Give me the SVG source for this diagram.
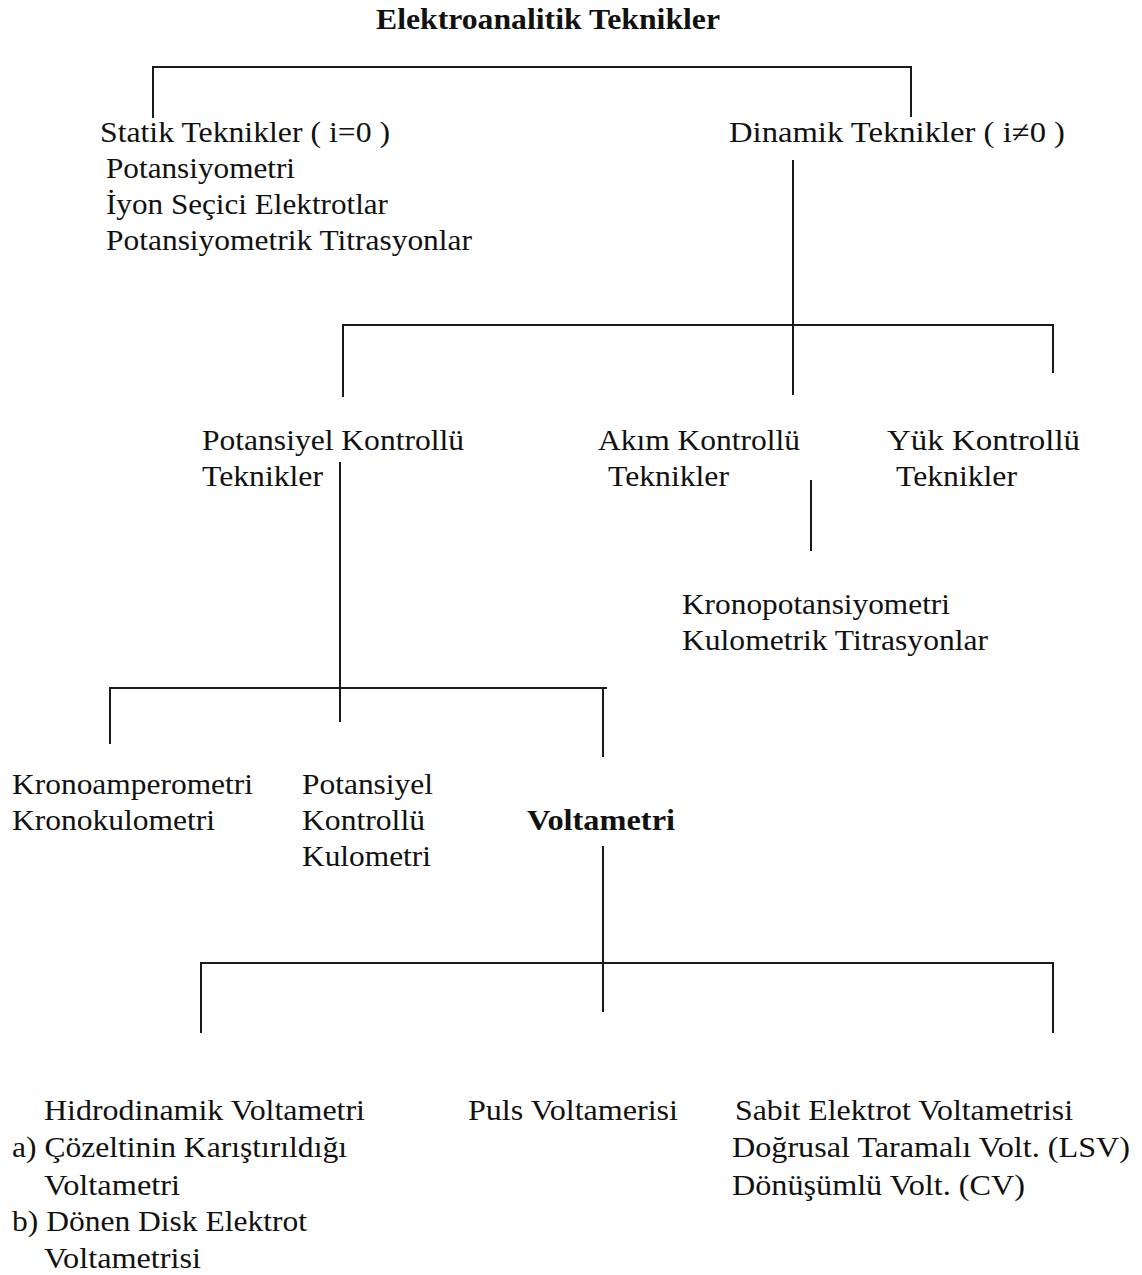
<svg xmlns="http://www.w3.org/2000/svg" width="1142" height="1275" viewBox="0 0 1142 1275">
<style>
.b{font-weight:bold}
.c line{stroke:#1a1a1a;stroke-width:2;fill:none}
</style>
<rect width="1142" height="1275" fill="#fff"/>
<g class="c" id="connectors">
<line x1="153" y1="67" x2="911" y2="67"/>
<line x1="153" y1="66" x2="153" y2="118"/>
<line x1="911" y1="66" x2="911" y2="117"/>
<line x1="793" y1="160" x2="793" y2="395"/>
<line x1="343" y1="325" x2="1053" y2="325"/>
<line x1="343" y1="324" x2="343" y2="397"/>
<line x1="1053" y1="324" x2="1053" y2="373"/>
<line x1="340" y1="462" x2="340" y2="722"/>
<line x1="811" y1="480" x2="811" y2="551"/>
<line x1="110" y1="688" x2="607" y2="688"/>
<line x1="110" y1="687" x2="110" y2="744"/>
<line x1="603" y1="687" x2="603" y2="757"/>
<line x1="603" y1="846" x2="603" y2="1012"/>
<line x1="201" y1="963" x2="1053" y2="963"/>
<line x1="201" y1="962" x2="201" y2="1033"/>
<line x1="1053" y1="962" x2="1053" y2="1033"/>
</g>
<g font-family="Liberation Serif, Times New Roman, serif" font-size="30" fill="#111" lengthAdjust="spacingAndGlyphs">
<g id="root"><text class="b" x="376" y="29" textLength="344" lengthAdjust="spacingAndGlyphs">Elektroanalitik Teknikler</text></g>
<g id="statik">
<text x="100" y="142" textLength="290" lengthAdjust="spacingAndGlyphs">Statik Teknikler ( i=0 )</text>
<text x="106" y="178" textLength="189" lengthAdjust="spacingAndGlyphs">Potansiyometri</text>
<text x="106" y="214" textLength="282" lengthAdjust="spacingAndGlyphs">İyon Seçici Elektrotlar</text>
<text x="106" y="250" textLength="366" lengthAdjust="spacingAndGlyphs">Potansiyometrik Titrasyonlar</text>
</g>
<g id="dinamik"><text x="729" y="142" textLength="336" lengthAdjust="spacingAndGlyphs">Dinamik Teknikler  ( i≠0 )</text></g>
<g id="potansiyel-kontrollu">
<text x="202" y="450" textLength="262" lengthAdjust="spacingAndGlyphs">Potansiyel Kontrollü</text>
<text x="202" y="486" textLength="121" lengthAdjust="spacingAndGlyphs">Teknikler</text>
</g>
<g id="akim-kontrollu">
<text x="598" y="450" textLength="202" lengthAdjust="spacingAndGlyphs">Akım Kontrollü</text>
<text x="608" y="486" textLength="121" lengthAdjust="spacingAndGlyphs">Teknikler</text>
</g>
<g id="yuk-kontrollu">
<text x="887" y="450" textLength="193" lengthAdjust="spacingAndGlyphs">Yük  Kontrollü</text>
<text x="896" y="486" textLength="121" lengthAdjust="spacingAndGlyphs">Teknikler</text>
</g>
<g id="akim-sub">
<text x="682" y="614" textLength="268" lengthAdjust="spacingAndGlyphs">Kronopotansiyometri</text>
<text x="682" y="650" textLength="306" lengthAdjust="spacingAndGlyphs">Kulometrik Titrasyonlar</text>
</g>
<g id="krono">
<text x="12" y="794" textLength="241" lengthAdjust="spacingAndGlyphs">Kronoamperometri</text>
<text x="12" y="830" textLength="203" lengthAdjust="spacingAndGlyphs">Kronokulometri</text>
</g>
<g id="pkk">
<text x="302" y="794" textLength="131" lengthAdjust="spacingAndGlyphs">Potansiyel</text>
<text x="302" y="830" textLength="123" lengthAdjust="spacingAndGlyphs">Kontrollü</text>
<text x="302" y="866" textLength="129" lengthAdjust="spacingAndGlyphs">Kulometri</text>
</g>
<g id="voltametri"><text class="b" x="527" y="830" textLength="148" lengthAdjust="spacingAndGlyphs">Voltametri</text></g>
<g id="hidrodinamik">
<text x="44" y="1120" textLength="321" lengthAdjust="spacingAndGlyphs">Hidrodinamik Voltametri</text>
<text x="12" y="1157" textLength="335" lengthAdjust="spacingAndGlyphs">a) Çözeltinin Karıştırıldığı</text>
<text x="44" y="1195" textLength="136" lengthAdjust="spacingAndGlyphs">Voltametri</text>
<text x="12" y="1231" textLength="295" lengthAdjust="spacingAndGlyphs">b) Dönen Disk Elektrot</text>
<text x="44" y="1268" textLength="157" lengthAdjust="spacingAndGlyphs">Voltametrisi</text>
</g>
<g id="puls"><text x="468" y="1120" textLength="210" lengthAdjust="spacingAndGlyphs">Puls Voltamerisi</text></g>
<g id="sabit">
<text x="735" y="1120" textLength="338" lengthAdjust="spacingAndGlyphs">Sabit Elektrot Voltametrisi</text>
<text x="732" y="1157" textLength="398" lengthAdjust="spacingAndGlyphs">Doğrusal Taramalı Volt. (LSV)</text>
<text x="732" y="1195" textLength="293" lengthAdjust="spacingAndGlyphs">Dönüşümlü Volt. (CV)</text>
</g>
</g>
</svg>
